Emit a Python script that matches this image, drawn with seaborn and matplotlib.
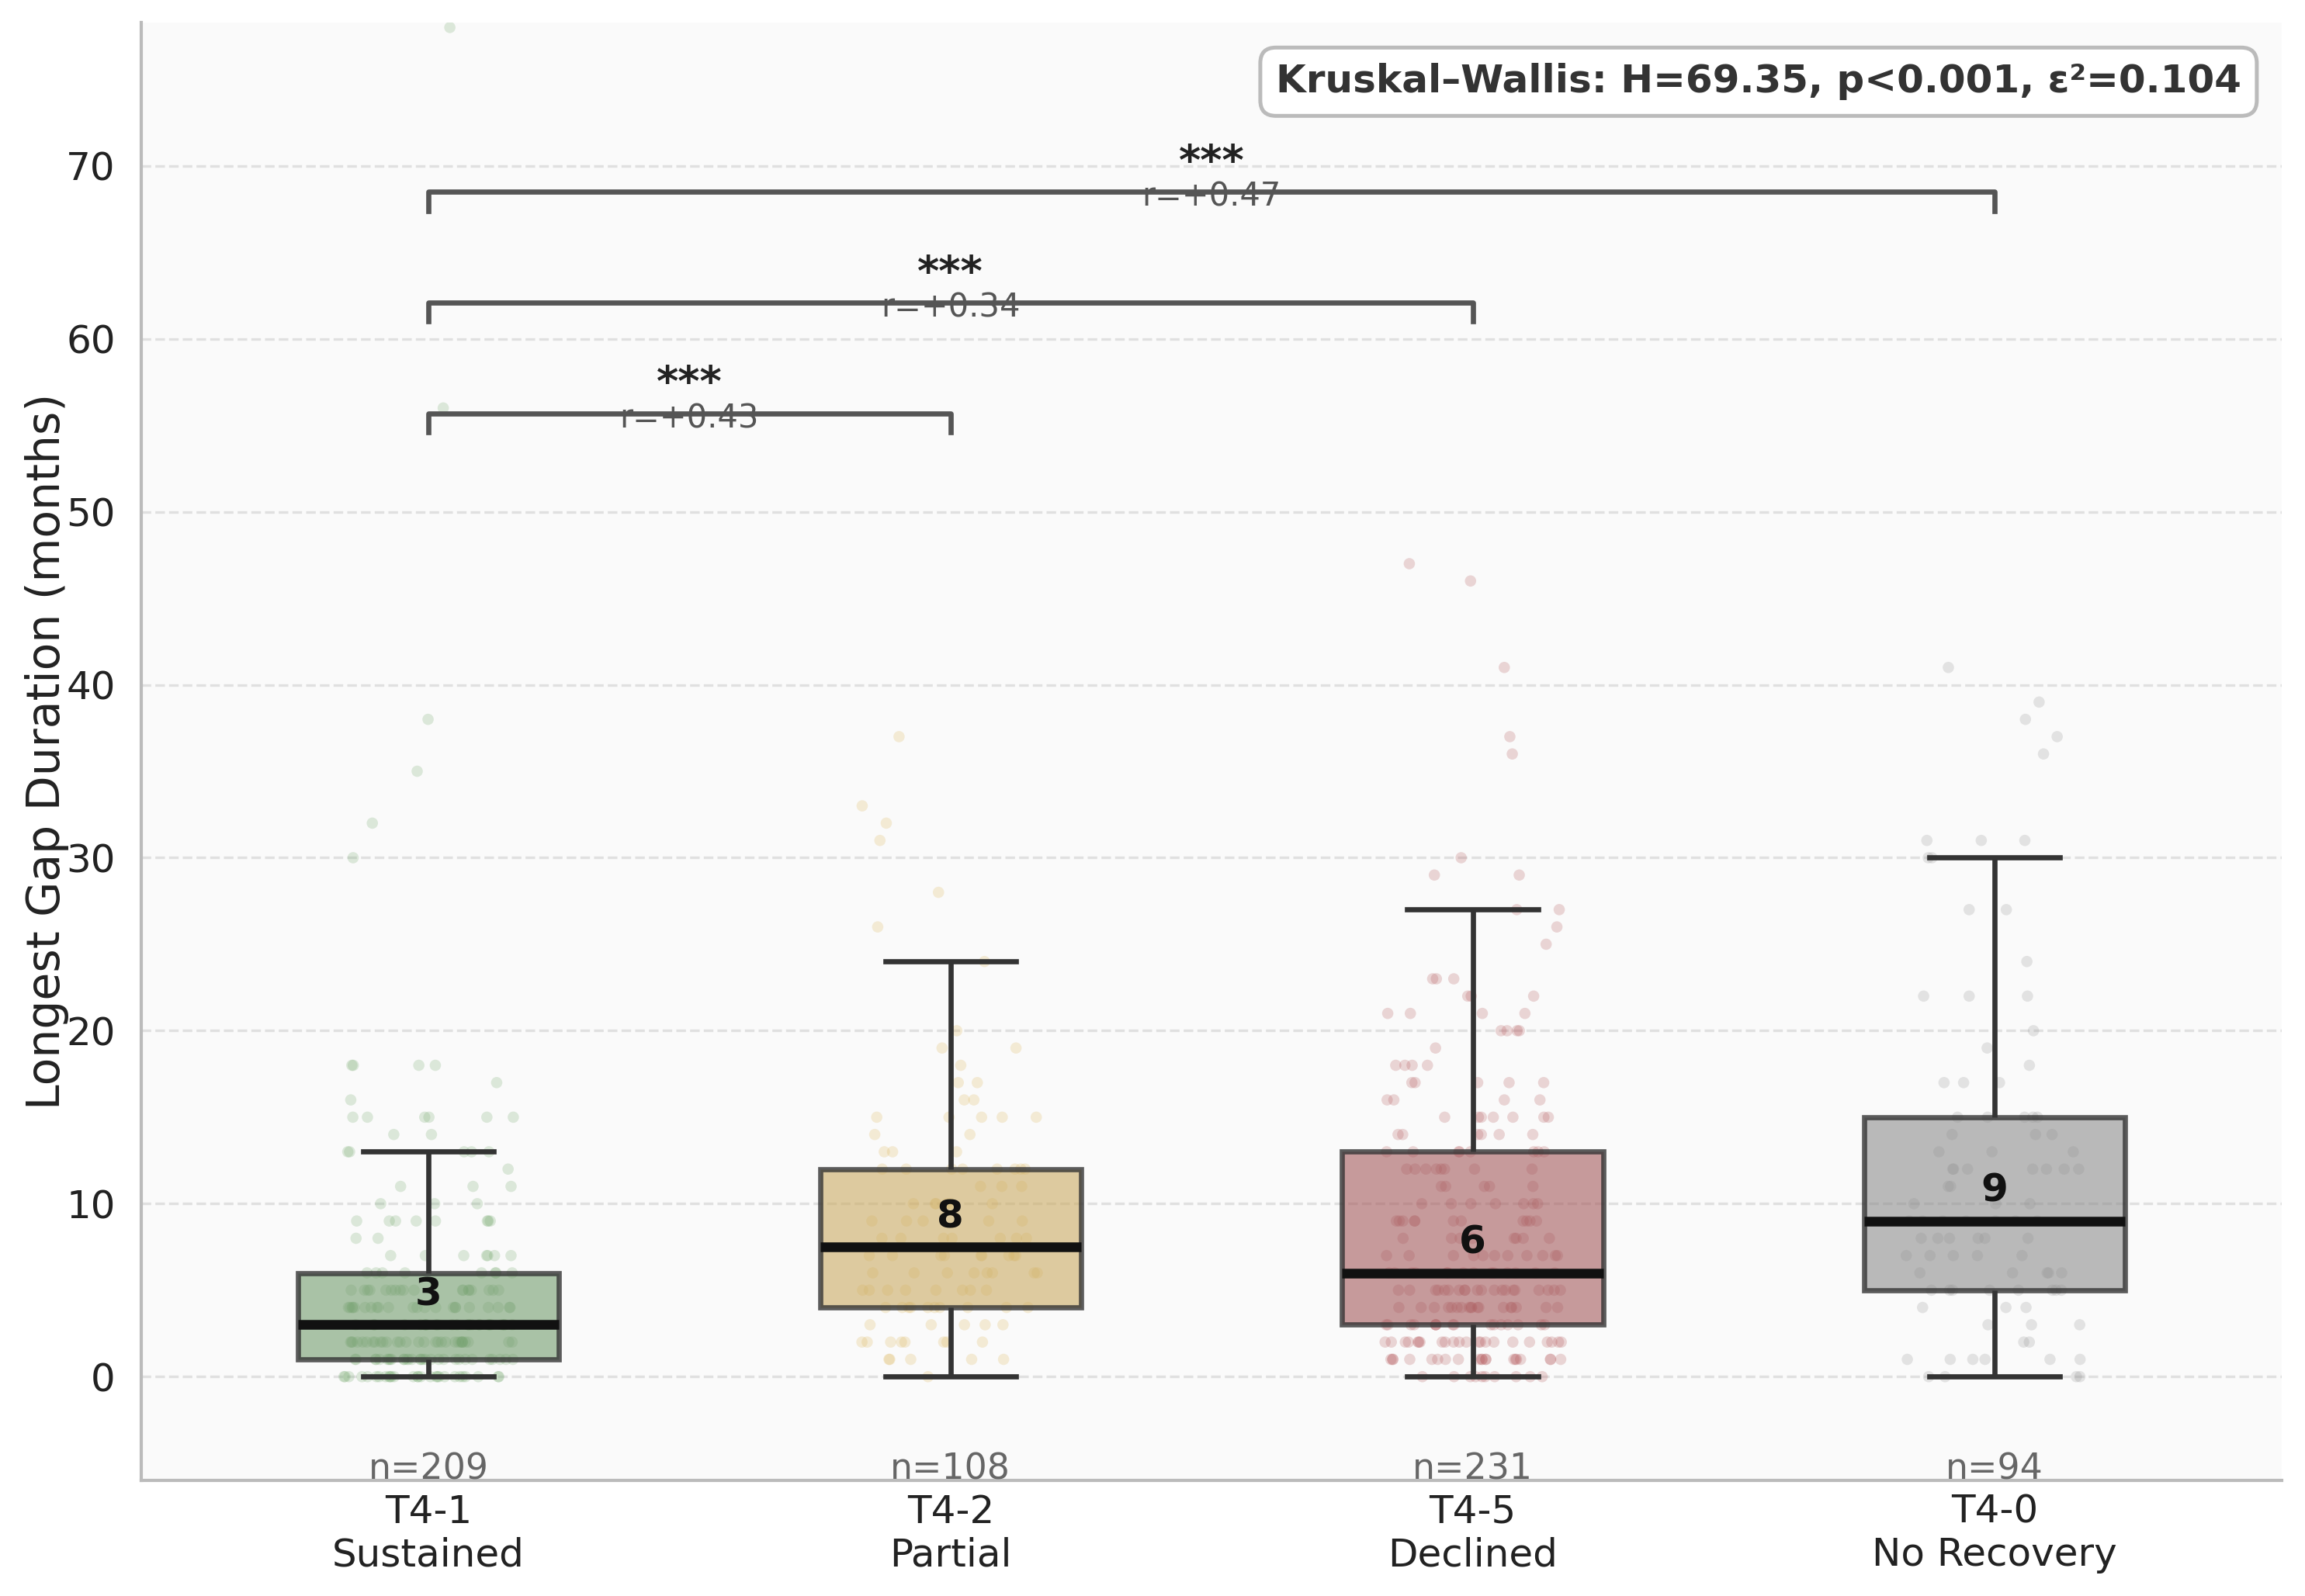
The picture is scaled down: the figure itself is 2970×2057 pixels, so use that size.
import numpy as np
import pandas as pd
import seaborn as sns
import matplotlib.pyplot as plt

# groups (x order) and colours
groups = ["T4-1", "T4-2", "T4-5", "T4-0"]
group_names = ["Sustained", "Partial", "Declined", "No Recovery"]
colors = ["#6ea567", "#dcb250", "#b14d50", "#8e8e8e"]

# longest gap (months): distinct values and how many patients had each
t41_vals = [0, 1, 2, 3, 4, 5, 6, 7, 8, 9, 10, 11, 12, 13, 14, 15, 16, 17, 18, 30, 32, 35, 38, 56, 78]
t41_cnts = [28, 30, 30, 24, 22, 18, 8, 7, 2, 8, 3, 3, 1, 5, 2, 6, 1, 1, 4, 1, 1, 1, 1, 1, 1]

t42_vals = [0, 1, 2, 3, 4, 5, 6, 7, 8, 9, 10, 11, 12, 13, 14, 15, 16, 17, 18, 19, 20, 24, 26, 28, 31, 32, 33, 37]
t42_cnts = [1, 5, 8, 5, 10, 8, 8, 9, 7, 5, 6, 3, 8, 3, 2, 5, 2, 2, 1, 2, 1, 1, 1, 1, 1, 1, 1, 1]

t45_vals = [0, 1, 2, 3, 4, 5, 6, 7, 8, 9, 10, 11, 12, 13, 14, 15, 16, 17, 18, 19, 20, 21, 22, 23, 25, 26, 27,
            29, 30, 36, 37, 41, 46, 47]
t45_cnts = [10, 20, 22, 16, 18, 20, 14, 11, 8, 11, 7, 5, 8, 8, 6, 7, 4, 5, 4, 1, 4, 4, 3, 3, 1, 1, 2,
            2, 1, 1, 1, 1, 1, 1]

t40_vals = [0, 1, 2, 3, 4, 5, 6, 7, 8, 9, 10, 11, 12, 13, 14, 15, 17, 18, 19, 20, 22, 24, 27, 30, 31, 36, 37, 38, 39, 41]
t40_cnts = [4, 6, 2, 3, 3, 8, 5, 5, 6, 7, 3, 2, 7, 3, 3, 5, 3, 1, 1, 1, 3, 1, 2, 2, 3, 1, 1, 1, 1, 1]

# pairwise comparisons: (group a, group b, stars, effect size r)
pairs = [("T4-1", "T4-2", "***", "r=+0.43"),
         ("T4-1", "T4-5", "***", "r=+0.34"),
         ("T4-1", "T4-0", "***", "r=+0.47")]
bracket_y = [55.7, 62.1, 68.5]

kw_text = "Kruskal–Wallis: H=69.35, p<0.001, ε²=0.104"

rows = []
for g, vals, cnts in zip(groups, [t41_vals, t42_vals, t45_vals, t40_vals],
                         [t41_cnts, t42_cnts, t45_cnts, t40_cnts]):
    for v in np.repeat(vals, cnts):
        rows.append((g, v))
df = pd.DataFrame(rows, columns=["group", "gap"])

plt.rcParams["font.family"] = ["DejaVu Sans"]
fig = plt.figure(figsize=(9.9, 6.857), dpi=300)
ax = fig.add_axes([0.0613, 0.0724, 0.9287, 0.9136])
ax.set_facecolor("#fafafa")

np.random.seed(3)
sns.stripplot(data=df, x="group", y="gap", hue="group", order=groups, hue_order=groups,
              palette=colors, jitter=0.17, size=3.5, alpha=0.22, linewidth=0,
              legend=False, ax=ax, zorder=1)

sns.boxplot(data=df, x="group", y="gap", hue="group", order=groups, hue_order=groups,
            palette=colors, width=0.5, showfliers=False, linewidth=1.6, linecolor="#333333",
            medianprops=dict(color="#111111", linewidth=3.0),
            legend=False, ax=ax)
for p in ax.patches:
    fc = p.get_facecolor()
    p.set_facecolor((fc[0], fc[1], fc[2], 0.6))
    p.set_edgecolor((0.2, 0.2, 0.2, 0.8))
    p.set_zorder(2)

# median labels and n labels
for i, g in enumerate(groups):
    vals = df.loc[df.group == g, "gap"]
    med = np.median(vals)
    ax.text(i, med + 1.75, f"{med:.0f}", ha="center", va="center",
            fontsize=12, fontweight="bold", color="#111111", zorder=5)
    ax.text(i, -5.35, f"n={len(vals)}", ha="center", va="center",
            fontsize=11, color="#666666", zorder=5)

# significance brackets
pos = {g: i for i, g in enumerate(groups)}
for (a, b, stars, rtxt), h in zip(pairs, bracket_y):
    x1, x2 = pos[a], pos[b]
    ax.plot([x1, x1, x2, x2], [h - 1.1, h, h, h - 1.1], color="#555555", lw=1.6, zorder=4)
    ax.text((x1 + x2) / 2, h + 0.5, stars, ha="center", va="bottom",
            fontsize=13, fontweight="bold", color="#222222")
    ax.text((x1 + x2) / 2, h - 0.3, rtxt, ha="center", va="center",
            fontsize=10, color="#555555")

ax.text(0.981, 0.972, kw_text, transform=ax.transAxes, ha="right", va="top",
        fontsize=12, fontweight="bold", color="#333333",
        bbox=dict(boxstyle="round,pad=0.4", fc="white", ec="#bbbbbb", lw=1.2))

ax.set_xlim(-0.55, 3.55)
ax.set_ylim(-6, 78.3)
ax.set_yticks(range(0, 80, 10))
ax.set_xticks(range(len(groups)))
ax.set_xticklabels([f"{g}\n{n}" for g, n in zip(groups, group_names)], fontsize=12, color="#222222")
ax.tick_params(axis="y", labelsize=12, labelcolor="#222222", length=0, pad=8)
ax.tick_params(axis="x", length=0, pad=4)
ax.set_xlabel("")
ax.set_ylabel("Longest Gap Duration (months)", fontsize=14, color="#222222", labelpad=-1)
ax.yaxis.grid(True, linestyle="--", color="#e0e0e0", linewidth=0.8)
ax.xaxis.grid(False)
ax.set_axisbelow(True)
for s in ["top", "right"]:
    ax.spines[s].set_visible(False)
for s in ["left", "bottom"]:
    ax.spines[s].set_color("#bbbbbb")
    ax.spines[s].set_linewidth(1.0)

fig.savefig("out.png", dpi=300)
